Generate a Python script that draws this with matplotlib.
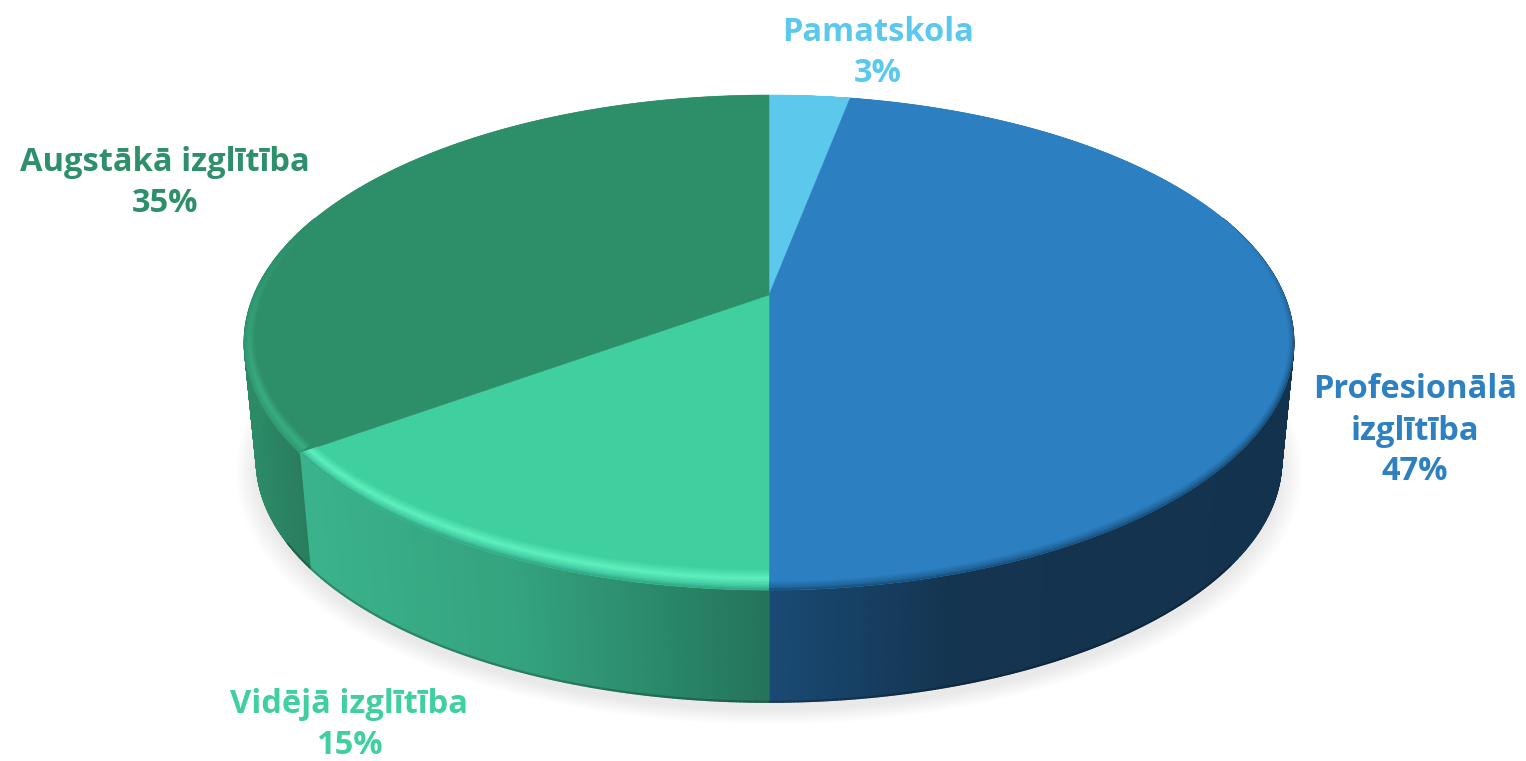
import matplotlib
matplotlib.use("Agg")
import matplotlib.pyplot as plt
from matplotlib.colors import to_rgb
from matplotlib.collections import PolyCollection
import numpy as np

# Data (clockwise from the top)
categories = ["Pamatskola", "Profesionālā\nizglītība", "Vidējā izglītība", "Augstākā izglītība"]
shares = [3, 47, 15, 35]

top_colors = ["#5bc8ec", "#2c7fc0", "#40d0a0", "#2d8f6a"]
text_colors = ["#5bc8ee", "#2d80c1", "#40d0a0", "#2d906b"]
label_pos = [(878, 53), (1415, 431), (349, 725), (165, 183)]

# side wall gradient stops per slice: (x pixel, colour)
wall_stops = [
    [(0, "#5bc8ec"), (1526, "#5bc8ec")],
    [(769, "#194a74"), (960, "#14344f"), (1300, "#13324e")],
    [(312, "#3ab28b"), (520, "#34a27e"), (650, "#2b8a6c"), (769, "#24735a")],
    [(250, "#2c8a67"), (312, "#287a5c")],
]
# rim of the top face: (radius, colour), faded towards the back
rim_stops = [
    [(0.99, "#5bc8ec"), (1.0, "#5bc8ec")],
    [(0.975, "#2c7fc0"), (0.992, "#21669c"), (1.0, "#174a74")],
    [(0.94, "#40d0a0"), (0.967, "#60f2bf"), (0.985, "#45d0a6"), (1.0, "#2f9c7c")],
    [(0.945, "#2d8f6a"), (0.972, "#3cae84"), (1.0, "#2f9a72")],
]

# perspective of the disc, in pixels
CX, CY, AX_X, AX_Y, PERSP = 769, 295, 515, 238.4, 0.192
WALL_SCALE, WALL_CY = 0.977, 414


def project(theta, r=1.0, scale=1.0, cy=CY, rx=None):
    # theta is clockwise from the top, in radians
    X = (r if rx is None else rx) * np.sin(theta)
    Y = r * np.cos(theta)
    w = 1 + PERSP * Y
    return CX + scale * AX_X * X / w, cy - scale * AX_Y * Y / w


def mix_stops(x, stops):
    xs = [s[0] for s in stops]
    rgb = np.array([to_rgb(s[1]) for s in stops])
    return np.column_stack([np.interp(x, xs, rgb[:, i]) for i in range(3)])


plt.rcParams["font.family"] = ["Open Sans", "DejaVu Sans"]

fig = plt.figure(figsize=(15.26, 7.61), dpi=100)
ax = fig.add_axes([0, 0, 1, 1])
ax.set_xlim(0, 1526)
ax.set_ylim(761, 0)
ax.axis("off")

# soft shadow under the disc
ring = np.linspace(0, 2 * np.pi, 361)
for i in range(22):
    r = 1.04 - i * 0.002
    sx, sy = project(ring, r=r, scale=WALL_SCALE, cy=WALL_CY + 8)
    ax.fill(sx, sy, color="black", alpha=0.0055, lw=0, zorder=1)

edges = np.deg2rad(np.cumsum([0] + shares) / sum(shares) * 360)

# side wall, one thin quad per step so the colour can follow x
for k in range(len(shares)):
    a0, a1 = edges[k], edges[k + 1]
    lo, hi = max(a0, np.deg2rad(70)), min(a1, np.deg2rad(290))
    if lo >= hi:
        continue
    t = np.linspace(lo, hi, int(np.degrees(hi - lo) * 3) + 2)
    tx, ty = project(t)
    bx, by = project(t, scale=WALL_SCALE, cy=WALL_CY)
    quads = [[(tx[i], ty[i]), (tx[i + 1], ty[i + 1]), (bx[i + 1], by[i + 1]), (bx[i], by[i])]
             for i in range(len(t) - 1)]
    cols = mix_stops((tx[:-1] + tx[1:]) / 2, wall_stops[k])
    ax.add_collection(PolyCollection(quads, facecolors=cols, edgecolors=cols, linewidths=0.9, zorder=2))
    # darker lower lip of the wall, only on the front part
    front = (t > np.deg2rad(125)) & (t < np.deg2rad(240))
    ax.plot(bx[front], by[front] - 0.5, color="black", alpha=0.22, lw=1.6, zorder=2.5, solid_capstyle="butt")

# top face, kept so the bevel can be clipped to its slice
faces = []
for k in range(len(shares)):
    t = np.linspace(edges[k], edges[k + 1], 200)
    x, y = project(t)
    faces.append(ax.fill(np.r_[CX, x], np.r_[CY, y], color=top_colors[k], lw=0.4, zorder=3)[0])

# bevel along the rim of the top face; the band is much thinner in x than in y
for k in range(len(shares)):
    radii = np.linspace(rim_stops[k][0][0], 1.0, 16)
    t = np.linspace(edges[k], edges[k + 1], 240)
    r_colors = mix_stops(radii, rim_stops[k])
    base = np.array(to_rgb(top_colors[k]))
    quads, cols = [], []
    fade = np.clip((0.3 - np.cos((t[:-1] + t[1:]) / 2)) / 0.7, 0, 1)
    for j in range(len(radii) - 1):
        x0, y0 = project(t, r=radii[j], rx=1 - (1 - radii[j]) * 0.35)
        x1, y1 = project(t, r=radii[j + 1], rx=1 - (1 - radii[j + 1]) * 0.35)
        for i in range(len(t) - 1):
            quads.append([(x0[i], y0[i]), (x0[i + 1], y0[i + 1]), (x1[i + 1], y1[i + 1]), (x1[i], y1[i])])
            cols.append(base + (r_colors[j] - base) * fade[i])
    cols = np.array(cols)
    rim = PolyCollection(quads, facecolors=cols, edgecolors=cols, linewidths=0.3, zorder=4)
    ax.add_collection(rim)
    rim.set_clip_path(faces[k])

# labels
for k in range(len(shares)):
    ax.text(label_pos[k][0], label_pos[k][1], f"{categories[k]}\n{shares[k]}%",
            color=text_colors[k], fontsize=23.5, fontweight="bold", ha="center", va="center",
            linespacing=1.32, zorder=5)

plt.savefig("out.png", dpi=100)
